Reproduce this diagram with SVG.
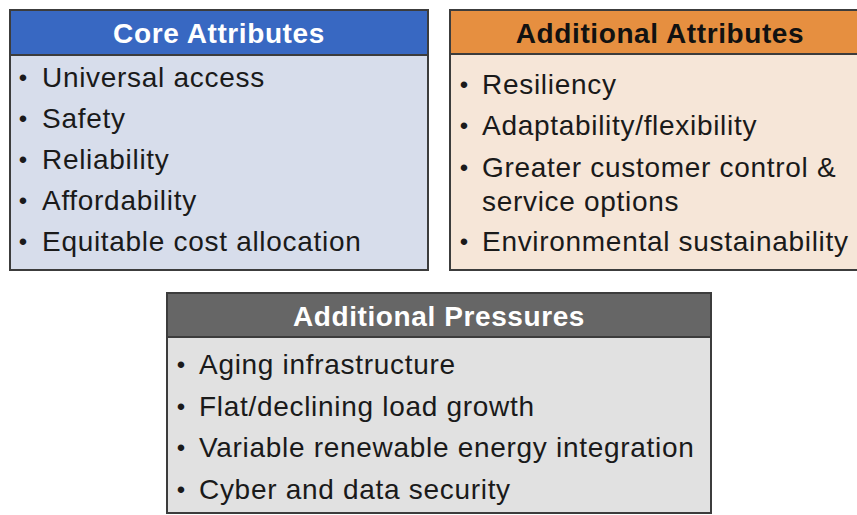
<svg xmlns="http://www.w3.org/2000/svg" width="857" height="515" viewBox="0 0 857 515">
<style>
.box{stroke:#3c3c3c;stroke-width:2}
.hdr{font-family:"Liberation Sans",Arial,sans-serif;font-size:28px;font-weight:bold;letter-spacing:0.6px;text-anchor:middle}
.item{font-family:"Liberation Sans",Arial,sans-serif;font-size:28px;letter-spacing:0.7px;fill:#1a1a1a}
.bul{font-family:"Liberation Sans",Arial,sans-serif;font-size:24px;fill:#1a1a1a;text-anchor:middle}
</style>
<rect width="857" height="515" fill="#ffffff"/>
<g id="core">
<rect class="box" x="10" y="10" width="418" height="260" fill="#d7ddeb"/>
<rect class="box" x="10" y="10" width="418" height="45" fill="#3868c2"/>
<text class="hdr" x="219" y="43" fill="#ffffff">Core Attributes</text>
<text class="bul" x="23" y="86">•</text><text class="item" x="42" y="87">Universal access</text>
<text class="bul" x="23" y="127">•</text><text class="item" x="42" y="128">Safety</text>
<text class="bul" x="23" y="168">•</text><text class="item" x="42" y="169">Reliability</text>
<text class="bul" x="23" y="209">•</text><text class="item" x="42" y="210">Affordability</text>
<text class="bul" x="23" y="250">•</text><text class="item" x="42" y="251">Equitable cost allocation</text>
</g>
<g id="additional-attributes">
<rect class="box" x="450" y="10" width="420" height="260" fill="#f6e6d8"/>
<rect class="box" x="450" y="10" width="420" height="44" fill="#e68f40"/>
<text class="hdr" x="660" y="43" fill="#111111">Additional Attributes</text>
<text class="bul" x="464" y="93">•</text><text class="item" x="482" y="94">Resiliency</text>
<text class="bul" x="464" y="134">•</text><text class="item" x="482" y="135">Adaptability/flexibility</text>
<text class="bul" x="464" y="176">•</text><text class="item" x="482" y="177">Greater customer control &amp;</text>
<text class="item" x="482" y="211">service options</text>
<text class="bul" x="464" y="250">•</text><text class="item" x="482" y="251">Environmental sustainability</text>
</g>
<g id="additional-pressures">
<rect class="box" x="167" y="293" width="544" height="220" fill="#e1e1e1"/>
<rect class="box" x="167" y="293" width="544" height="44" fill="#666666"/>
<text class="hdr" x="439" y="326" fill="#ffffff">Additional Pressures</text>
<text class="bul" x="181" y="373">•</text><text class="item" x="199" y="374">Aging infrastructure</text>
<text class="bul" x="181" y="415">•</text><text class="item" x="199" y="416">Flat/declining load growth</text>
<text class="bul" x="181" y="456">•</text><text class="item" x="199" y="457">Variable renewable energy integration</text>
<text class="bul" x="181" y="498">•</text><text class="item" x="199" y="499">Cyber and data security</text>
</g>
<g id="connectors"/>
</svg>
